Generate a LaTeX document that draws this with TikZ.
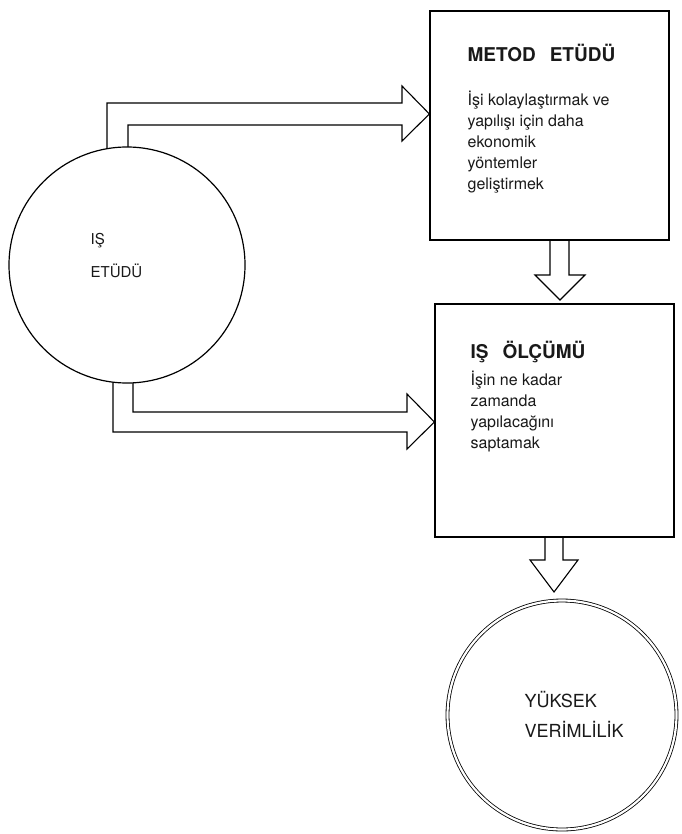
\documentclass[tikz,border=0pt]{standalone}
\usepackage{fontspec}
\setmainfont{TeX Gyre Heros}
\pgfdeclarelayer{background}
\pgfsetlayers{background,main}
\begin{document}
\begin{tikzpicture}[x=1pt,y=-1pt,line width=1.2pt,
  lbl/.style={inner sep=0pt,anchor=base west,text=black!90,
    font=\fontsize{16}{21}\selectfont},
  body/.style={inner sep=0pt,anchor=north west,align=left,text=black!90,
    font=\fontsize{16}{21}\selectfont},
  ttl/.style={inner sep=0pt,anchor=base west,text=black!90,
    font=\bfseries\fontsize{19}{21}\selectfont},
  boxn/.style={draw,fill=white,rectangle,inner sep=0pt},
  circn/.style={draw,fill=white,circle,inner sep=0pt},
  fat/.style={draw=black,fill=white,line width=1.1pt,line join=miter}]
\useasboundingbox (0,0) rectangle (681,834);
% nodes
\node[circn,minimum size=236pt] (etud) at (127,265) {};
\node[boxn,minimum width=239pt,minimum height=229pt] (metod) at (549.5,125.5) {};
\node[boxn,minimum width=239pt,minimum height=233pt] (olcum) at (554.5,420.5) {};
\node[circn,minimum size=229pt,double,double distance=2.2pt,line width=0.8pt] (verim) at (562,715) {};
% texts
\node[lbl,font=\fontsize{15}{21}\selectfont] (t1) at (90,244) {IŞ};
\node[lbl,font=\fontsize{15}{21}\selectfont] (t2) at (90,277) {ETÜDÜ};
\node[ttl] (m1) at (467,62) {METOD\hspace{14pt}ETÜDÜ};
\node[body] (m2) at (467,90.5) {İşi kolaylaştırmak ve\\yapılışı için daha\\ekonomik\\yöntemler\\geliştirmek};
\node[ttl] (o1) at (470,358) {IŞ\hspace{14pt}ÖLÇÜMÜ};
\node[body] (o2) at (470,370.5) {İşin ne kadar\\zamanda\\yapılacağını\\saptamak};
\node[lbl,font=\fontsize{18}{21}\selectfont] (v1) at (524,707) {YÜKSEK};
\node[lbl,font=\fontsize{18}{21}\selectfont] (v2) at (524,737) {VERİMLİLİK};
% fat arrows
\coordinate (tipA) at (metod.west |- 0,114);
\coordinate (tipB) at (olcum.west |- 0,422);
\coordinate (tipC) at (560,300);
\coordinate (tipD) at (554,592);
\begin{pgfonlayer}{background}
\draw[fat] (107,170) -- (107,103) -- (402,103) -- (402,86) -- (tipA)
  -- (402,141) -- (402,125) -- (128,125) -- (128,170);
\draw[fat] (113,360) -- (113,432) -- (407,432) -- (407,449) -- (tipB)
  -- (407,394) -- (407,412) -- (133,412) -- (133,360);
\draw[fat] (550,230) -- (550,275) -- (535,275) -- (tipC) -- (585,275)
  -- (569,275) -- (569,230);
\draw[fat] (545,530) -- (545,560) -- (530,560) -- (tipD) -- (578,560)
  -- (563,560) -- (563,530);
\end{pgfonlayer}
\end{tikzpicture}
\end{document}
